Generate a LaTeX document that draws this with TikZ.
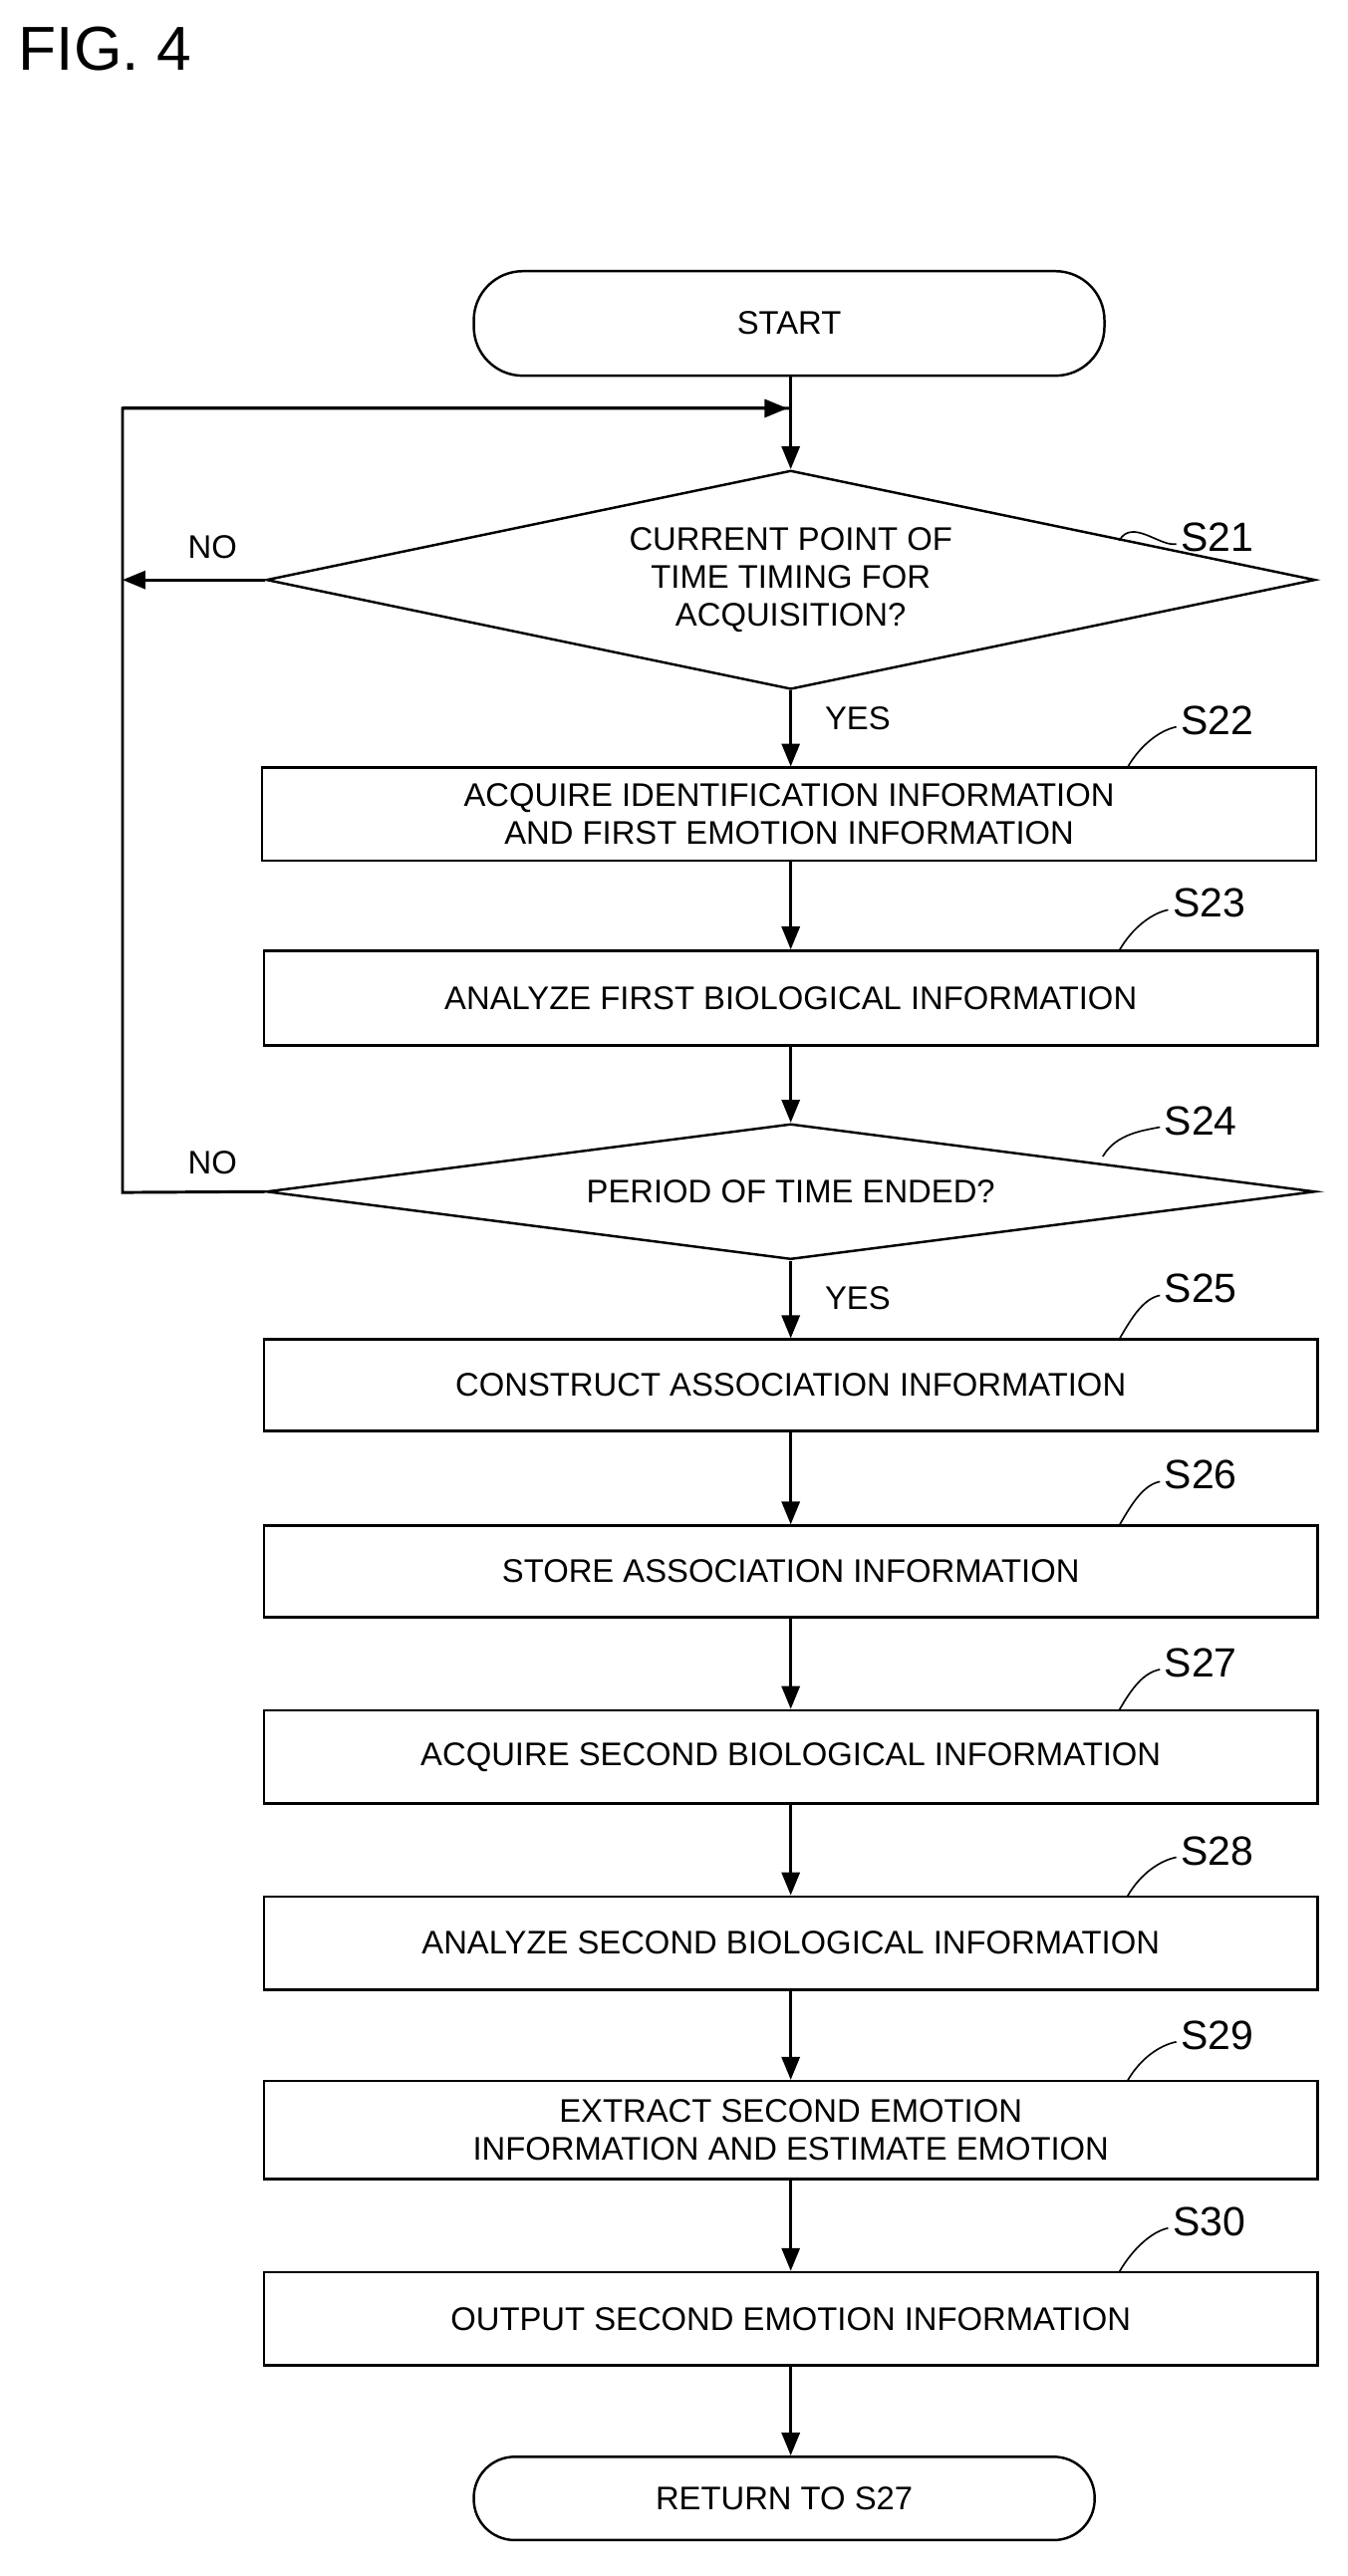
\documentclass[tikz,border=0pt]{standalone}
\usepackage{fontspec}
\setmainfont{Liberation Sans}
\usetikzlibrary{shapes.geometric,arrows.meta}
\begin{document}
\begin{tikzpicture}[x=1pt,y=-1pt,
  every node/.style={font=\fontsize{20}{23}\selectfont},
  box/.style={draw,line width=1.5pt,minimum width=645pt,inner sep=0pt,align=center},
  term/.style={draw,line width=1.5pt,rounded corners=30pt,inner sep=0pt},
  dia/.style={draw,line width=1.5pt,diamond,aspect=4.8,inner sep=0pt,align=center},
  ln/.style={line width=1.8pt},
  ar/.style={ln,-{Triangle[length=14pt,width=11pt]}},
  lab/.style={font=\fontsize{25}{28}\selectfont}]
\useasboundingbox (0,0) rectangle (825,1577);
\node[anchor=west,font=\fontsize{38}{44}\selectfont] (fig) at (8,30) {FIG. 4};
\node[term,minimum width=386pt,minimum height=64pt] (start) at (483,198) {START};
\node[dia,minimum width=642pt,minimum height=134pt] (s21) at (484,355) {CURRENT POINT OF\\TIME TIMING FOR\\ACQUISITION?};
\node[box,minimum height=57pt] (s22) at (483,498.5) {ACQUIRE IDENTIFICATION INFORMATION\\AND FIRST EMOTION INFORMATION};
\node[box,minimum height=58pt] (s23) at (484,611) {ANALYZE FIRST BIOLOGICAL INFORMATION};
\node[dia,minimum width=642pt,minimum height=83pt] (s24) at (484,729.5) {PERIOD OF TIME ENDED?};
\node[box,minimum height=56pt] (s25) at (484,848) {CONSTRUCT ASSOCIATION INFORMATION};
\node[box,minimum height=56pt] (s26) at (484,962) {STORE ASSOCIATION INFORMATION};
\node[box,minimum height=57pt] (s27) at (484,1075.5) {ACQUIRE SECOND BIOLOGICAL INFORMATION};
\node[box,minimum height=57pt] (s28) at (484,1189.5) {ANALYZE SECOND BIOLOGICAL INFORMATION};
\node[box,minimum height=60pt] (s29) at (484,1304) {EXTRACT SECOND EMOTION\\INFORMATION AND ESTIMATE EMOTION};
\node[box,minimum height=57pt] (s30) at (484,1419.5) {OUTPUT SECOND EMOTION INFORMATION};
\node[term,minimum width=380pt,minimum height=51pt,rounded corners=25pt] (ret) at (480,1529.5) {RETURN TO S27};
\coordinate (tl) at (75,250);
\coordinate (j) at (484,250);
\coordinate (nl1) at (75,355);
\coordinate (nl2) at (75,730);
\draw[ar] (start.south-|s21.north) -- (s21.north);
\draw[ln] (s24.west) -- (nl2) -- (tl) -- (j);
\draw[ar] (tl) -- (482,250);
\draw[ar] (s21.west) -- (nl1);
\node (no1) at (130,335) {NO};
\node (no2) at (130,712) {NO};
\draw[ar] (s21.south) -- (s22.north-|s21.south);
\node (y1) at (525,440) {YES};
\draw[ar] (s22.south-|s23.north) -- (s23.north);
\draw[ar] (s23) -- (s24.north);
\draw[ar] (s24.south) -- (s25);
\node (y2) at (525,795) {YES};
\draw[ar] (s25) -- (s26);
\draw[ar] (s26) -- (s27);
\draw[ar] (s27) -- (s28);
\draw[ar] (s28) -- (s29);
\draw[ar] (s29) -- (s30);
\draw[ar] (s30.south) -- (s30.south|-ret.north);
\foreach \n/\x/\y/\bx/\by in {21/745/329/685/331, 22/745/441/690/470, 23/740/553/685/582, 24/735/686/675/708, 25/735/789/685/820, 26/735/903/685/934, 27/735/1018/685/1047, 28/745/1133/690/1161, 29/745/1246/690/1274, 30/740/1360/685/1391}{
  \node[lab] (l\n) at (\x,\y) {S\n};
  \draw[line width=1pt] (\x-25,\y+4) .. controls (\x-35,\y+6) and (\bx+8,\by-14) .. (\bx,\by);
}
\end{tikzpicture}
\end{document}
